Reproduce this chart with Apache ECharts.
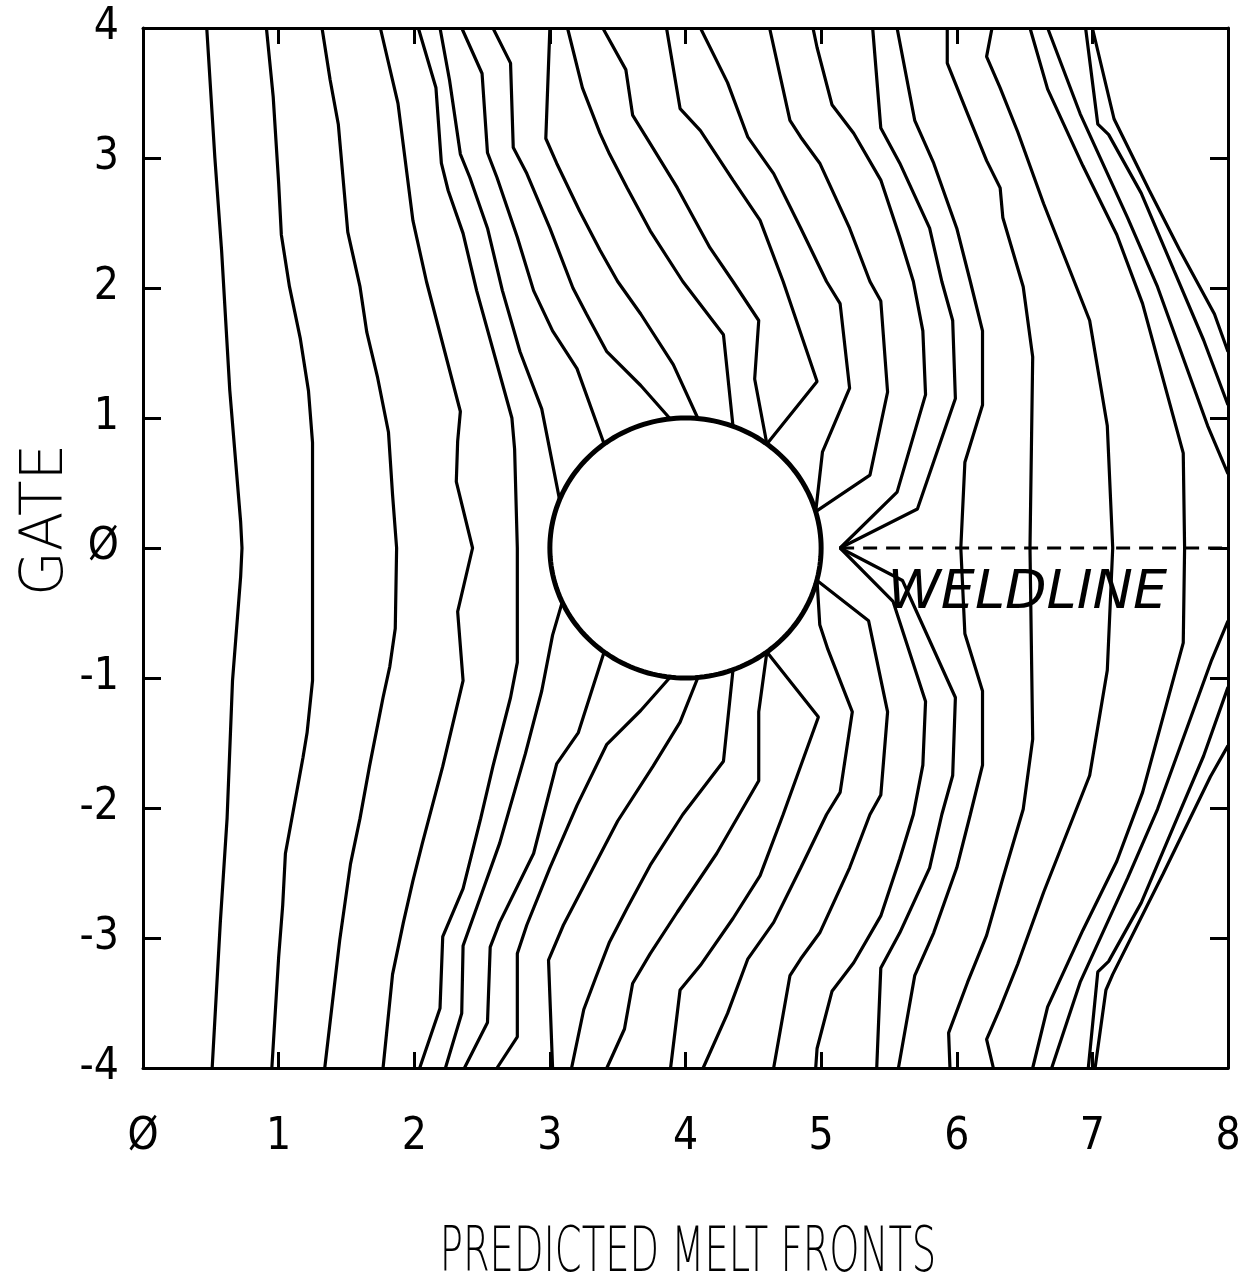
<!DOCTYPE html>
<html><head><meta charset="utf-8">
<script src="https://cdn.jsdelivr.net/npm/echarts/dist/echarts.min.js"></script>
<style>html,body{margin:0;padding:0;background:#fff}#c{width:1254px;height:1281px}</style>
</head><body><div id="c"></div>
<script>
// ---- tick labels ----
const xTicks = [0, 1, 2, 3, 4, 5, 6, 7, 8];
const yTicks = [-4, -3, -2, -1, 0, 1, 2, 3, 4];
const xTitle = 'PREDICTED MELT FRONTS';
const yTitle = 'GATE';
const weldLabel = 'WELDLINE';
const weldLabelAt = [6.52, -0.35];

// ---- obstacle (circle) and weld line ----
const hole = { cx: 4, cy: 0, r: 1 };
const weldLine = [[5.14, 0], [8, 0]];

// ---- melt fronts, [x, y] ----
const f01 = [[0.47,4],[0.53,3.0],[0.58,2.28],[0.64,1.21],[0.72,0.2],[0.73,0],[0.72,-0.22],[0.66,-1.02],[0.62,-2.08],[0.57,-2.88],[0.51,-4]];
const f02 = [[0.91,4],[0.96,3.47],[1.0,2.81],[1.02,2.41],[1.08,2.01],[1.16,1.61],[1.22,1.21],[1.25,0.81],[1.25,0],[1.25,-1.02],[1.21,-1.42],[1.18,-1.61],[1.11,-2.01],[1.05,-2.35],[1.03,-2.75],[1.0,-3.15],[0.95,-4]];
const f03 = [[1.32,4],[1.38,3.6],[1.44,3.26],[1.51,2.43],[1.60,2.01],[1.65,1.66],[1.73,1.31],[1.81,0.89],[1.84,0.41],[1.87,0],[1.86,-0.62],[1.82,-0.91],[1.77,-1.15],[1.67,-1.68],[1.60,-2.08],[1.53,-2.43],[1.45,-3.02],[1.34,-4]];
const f04 = [[1.75,4],[1.88,3.42],[1.99,2.52],[2.09,2.05],[2.34,1.05],[2.32,0.82],[2.31,0.51],[2.43,0],[2.32,-0.49],[2.36,-1.02],[2.21,-1.68],[2.06,-2.27],[1.99,-2.56],[1.92,-2.88],[1.84,-3.28],[1.77,-4]];
const f05 = [[2.03,4],[2.16,3.54],[2.20,2.96],[2.25,2.75],[2.36,2.42],[2.46,1.98],[2.72,1.0],[2.74,0.76],[2.76,0],[2.76,-0.88],[2.71,-1.15],[2.58,-1.68],[2.49,-2.08],[2.36,-2.62],[2.21,-2.99],[2.19,-3.54],[2.04,-4]];
const f06Top = [[2.19,4],[2.26,3.60],[2.34,3.03],[2.41,2.85],[2.54,2.46],[2.65,1.98],[2.78,1.51],[2.94,1.07],[3.07,0.38]];
const f06Bot = [[3.09,-0.42],[3.02,-0.67],[2.94,-1.10],[2.82,-1.58],[2.63,-2.27],[2.50,-2.65],[2.36,-3.06],[2.35,-3.58],[2.23,-4]];
const f07Top = [[2.35,4],[2.50,3.65],[2.54,3.04],[2.61,2.85],[2.76,2.39],[2.88,1.98],[3.02,1.67],[3.20,1.38],[3.40,0.80]];
const f07Bot = [[3.40,-0.80],[3.21,-1.42],[3.05,-1.66],[2.88,-2.35],[2.63,-2.88],[2.56,-3.07],[2.54,-3.65],[2.37,-4]];
const f08Top = [[2.58,4],[2.71,3.73],[2.73,3.08],[2.83,2.88],[3.00,2.46],[3.17,2.0],[3.27,1.80],[3.42,1.51],[3.67,1.25],[3.89,0.99]];
const f08Bot = [[3.89,-0.99],[3.67,-1.25],[3.42,-1.51],[3.20,-1.98],[3.00,-2.46],[2.83,-2.90],[2.76,-3.12],[2.76,-3.76],[2.61,-4]];
const f09Top = [[3.00,4],[2.97,3.15],[3.05,2.96],[3.22,2.59],[3.37,2.29],[3.50,2.05],[3.67,1.80],[3.91,1.41],[4.09,1.0]];
const f09Bot = [[4.09,-1.0],[3.96,-1.34],[3.76,-1.68],[3.50,-2.1],[3.30,-2.5],[3.10,-2.9],[2.99,-3.17],[3.02,-4]];
const f10Top = [[3.13,4],[3.24,3.54],[3.37,3.19],[3.44,3.03],[3.57,2.77],[3.74,2.44],[3.98,2.05],[4.28,1.64],[4.35,0.94]];
const f10Bot = [[4.35,-0.94],[4.28,-1.64],[3.98,-2.05],[3.74,-2.44],[3.57,-2.77],[3.44,-3.03],[3.34,-3.3],[3.25,-3.55],[3.16,-4]];
const f11Top = [[3.39,4],[3.56,3.68],[3.61,3.33],[3.74,3.11],[3.94,2.77],[4.18,2.31],[4.35,2.05],[4.54,1.75],[4.51,1.30],[4.60,0.80]];
const f11Bot = [[4.60,-0.80],[4.54,-1.26],[4.54,-1.79],[4.23,-2.35],[3.94,-2.80],[3.74,-3.12],[3.61,-3.35],[3.55,-3.7],[3.42,-4]];
const f12Top = [[3.86,4],[3.96,3.38],[4.11,3.21],[4.35,2.83],[4.55,2.52],[4.72,2.05],[4.97,1.28],[4.60,0.80]];
const f12Bot = [[4.60,-0.80],[4.98,-1.30],[4.72,-2.05],[4.55,-2.52],[4.35,-2.85],[4.11,-3.21],[3.96,-3.40],[3.89,-4]];
const f13Top = [[4.11,4],[4.31,3.58],[4.46,3.16],[4.65,2.88],[4.85,2.46],[5.04,2.05],[5.14,1.88],[5.21,1.23],[5.01,0.74],[4.96,0.28]];
const f13Bot = [[4.97,-0.25],[4.99,-0.59],[5.05,-0.78],[5.23,-1.26],[5.14,-1.88],[5.04,-2.05],[4.85,-2.46],[4.65,-2.88],[4.46,-3.16],[4.31,-3.58],[4.13,-4]];
const f14Top = [[4.62,4],[4.77,3.29],[4.85,3.16],[4.99,2.96],[5.21,2.46],[5.36,2.05],[5.44,1.90],[5.49,1.20],[5.36,0.56],[4.96,0.28]];
const f14Bot = [[4.97,-0.25],[5.35,-0.56],[5.49,-1.26],[5.44,-1.90],[5.36,-2.05],[5.21,-2.46],[4.99,-2.96],[4.85,-3.16],[4.77,-3.29],[4.65,-4]];
const f15 = [[4.94,4],[4.97,3.85],[5.08,3.41],[5.24,3.19],[5.44,2.83],[5.58,2.39],[5.68,2.05],[5.75,1.67],[5.77,1.18],[5.56,0.43],[5.14,0],[5.53,-0.41],[5.77,-1.18],[5.75,-1.67],[5.68,-2.05],[5.58,-2.39],[5.44,-2.83],[5.24,-3.19],[5.08,-3.41],[4.97,-3.85],[4.96,-4]];
const f16 = [[5.38,4],[5.44,3.23],[5.58,2.96],[5.80,2.46],[5.89,2.05],[5.97,1.75],[5.99,1.15],[5.71,0.30],[5.14,0],[5.60,-0.25],[5.99,-1.15],[5.97,-1.75],[5.89,-2.05],[5.80,-2.46],[5.58,-2.96],[5.44,-3.23],[5.41,-4]];
const f17 = [[5.56,4],[5.69,3.29],[5.83,2.96],[6.00,2.46],[6.10,2.05],[6.19,1.67],[6.19,1.10],[6.06,0.66],[6.03,0],[6.06,-0.66],[6.19,-1.10],[6.19,-1.67],[6.10,-2.05],[6.00,-2.46],[5.83,-2.96],[5.69,-3.29],[5.57,-4]];
const f18 = [[5.93,4],[5.93,3.73],[6.08,3.34],[6.22,2.98],[6.32,2.77],[6.34,2.54],[6.49,2.01],[6.56,1.47],[6.54,0],[6.56,-1.47],[6.49,-2.01],[6.34,-2.54],[6.22,-2.98],[6.08,-3.34],[5.94,-3.73],[5.95,-4]];
const f19 = [[6.26,4],[6.22,3.78],[6.32,3.54],[6.45,3.20],[6.64,2.65],[6.98,1.75],[7.11,0.94],[7.15,0],[7.11,-0.94],[6.98,-1.75],[6.64,-2.65],[6.45,-3.20],[6.32,-3.54],[6.22,-3.78],[6.27,-4]];
const f20 = [[6.54,4],[6.67,3.53],[6.93,2.94],[7.18,2.41],[7.37,1.88],[7.67,0.73],[7.68,0],[7.67,-0.73],[7.37,-1.88],[7.18,-2.41],[6.93,-2.94],[6.67,-3.53],[6.56,-4]];
const f21Top = [[6.67,4],[6.91,3.34],[7.26,2.54],[7.48,2.01],[7.85,0.94],[8.0,0.57]];
const f21Bot = [[8.0,-0.56],[7.88,-0.86],[7.48,-2.01],[7.26,-2.54],[6.91,-3.34],[6.70,-4]];
const f22Top = [[6.95,4],[7.04,3.26],[7.12,3.18],[7.36,2.73],[7.60,2.14],[7.82,1.60],[8.0,1.10]];
const f22Bot = [[8.0,-1.07],[7.82,-1.6],[7.60,-2.14],[7.36,-2.73],[7.12,-3.18],[7.04,-3.26],[6.97,-4]];
const f23Top = [[7.0,4],[7.16,3.30],[7.42,2.75],[7.64,2.30],[7.90,1.80],[8.0,1.51]];
const f23Bot = [[8.0,-1.52],[7.87,-1.76],[7.52,-2.51],[7.15,-3.28],[7.10,-3.4],[7.02,-4]];

const fronts = [f01,f02,f03,f04,f05,f06Top,f06Bot,f07Top,f07Bot,f08Top,f08Bot,f09Top,f09Bot,
  f10Top,f10Bot,f11Top,f11Bot,f12Top,f12Bot,f13Top,f13Bot,f14Top,f14Bot,f15,f16,f17,f18,f19,f20,
  f21Top,f21Bot,f22Top,f22Bot,f23Top,f23Bot];

const chart = echarts.init(document.getElementById('c'), null, { renderer: 'canvas' });
const labelFont = "'Liberation Sans Narrow','DejaVu Sans Condensed','Liberation Sans',sans-serif";
const fmt = v => (v === 0 ? '\u00D8' : String(v));
const axisLine = { onZero: false, lineStyle: { color: '#000', width: 3 } };
const tickStyle = { color: '#000', width: 3 };

const series = fronts.map(d => ({
  type: 'line', data: d, showSymbol: false, symbol: 'none', silent: true,
  lineStyle: { color: '#000', width: 3.2 }, z: 3
}));
series.push({
  type: 'line', data: weldLine, showSymbol: false, symbol: 'none', silent: true,
  lineStyle: { color: '#000', width: 3, type: [14, 9] }, z: 3
});
series.push({
  type: 'custom', silent: true, z: 4,
  data: [[hole.cx, hole.cy, hole.r]],
  renderItem: (params, api) => {
    const c = api.coord([api.value(0), api.value(1)]);
    const s = api.size([api.value(2), api.value(2)]);
    const pts = [];
    for (let i = 0; i <= 180; i++) {
      const t = i / 180 * Math.PI * 2;
      pts.push([c[0] + s[0] * Math.cos(t), c[1] + s[1] * Math.sin(t)]);
    }
    return { type: 'polyline', shape: { points: pts }, style: { stroke: '#000', lineWidth: 5, fill: null } };
  }
});
series.push({
  type: 'custom', silent: true, z: 5,
  data: [weldLabelAt],
  renderItem: (params, api) => {
    const p = api.coord([api.value(0), api.value(1)]);
    return { type: 'text', x: p[0], y: p[1],
      style: { text: weldLabel, fill: '#000', fontSize: 54, fontStyle: 'italic', fontWeight: 'normal',
        fontFamily: "'DejaVu Sans',sans-serif", textAlign: 'center', textVerticalAlign: 'middle' } };
  }
});

chart.setOption({
  animation: false,
  backgroundColor: '#fff',
  grid: { left: 143, right: 26, top: 28, bottom: 213 },
  xAxis: [
    { type: 'value', min: xTicks[0], max: xTicks[xTicks.length - 1], interval: 1, position: 'bottom',
      axisLine, splitLine: { show: false },
      axisTick: { inside: true, length: 16, lineStyle: tickStyle },
      axisLabel: { margin: 48, fontSize: 44, color: '#000', fontFamily: labelFont, formatter: fmt } },
    { type: 'value', min: xTicks[0], max: xTicks[xTicks.length - 1], interval: 1, position: 'top',
      axisLine, splitLine: { show: false },
      axisTick: { inside: true, length: 16, lineStyle: tickStyle },
      axisLabel: { show: false } }
  ],
  yAxis: [
    { type: 'value', min: yTicks[0], max: yTicks[yTicks.length - 1], interval: 1, position: 'left',
      axisLine, splitLine: { show: false },
      axisTick: { inside: true, length: 18, lineStyle: tickStyle },
      axisLabel: { margin: 24, fontSize: 44, color: '#000', fontFamily: labelFont, formatter: fmt } },
    { type: 'value', min: yTicks[0], max: yTicks[yTicks.length - 1], interval: 1, position: 'right',
      axisLine, splitLine: { show: false },
      axisTick: { inside: true, length: 18, lineStyle: tickStyle },
      axisLabel: { show: false } }
  ],
  graphic: [
    { type: 'text', x: 47, y: 520, rotation: Math.PI / 2, silent: true,
      style: { text: yTitle, fontSize: 58, fontWeight: 300, fontFamily: "'DejaVu Sans',sans-serif",
        fill: '#000', textAlign: 'center', textVerticalAlign: 'middle' } },
    { type: 'text', x: 688, y: 1255, scaleX: 0.62, silent: true,
      style: { text: xTitle, fontSize: 62, fontWeight: 300, fontFamily: "'DejaVu Sans',sans-serif",
        fill: '#000', textAlign: 'center', textVerticalAlign: 'middle' } }
  ],
  series
});
</script></body></html>
